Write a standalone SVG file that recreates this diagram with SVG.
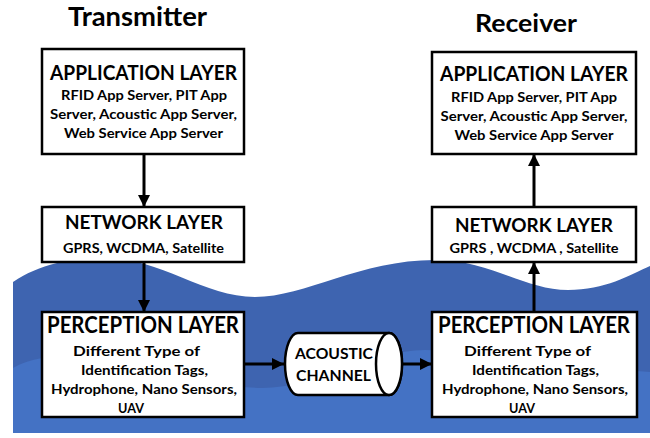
<svg xmlns="http://www.w3.org/2000/svg" width="650" height="438" viewBox="0 0 650 438">
<defs>
<style>
text{font-family:Lato,"Liberation Sans","DejaVu Sans",sans-serif;font-weight:bold;fill:#000;text-anchor:middle}
.title{font-size:26px}
.h1{font-size:20px}
.h2{font-size:18px}
.h3{font-size:22px}
.b{font-size:13.5px}
.box{fill:#fff;stroke:#000;stroke-width:2.5}
.conn{stroke:#000;stroke-width:3;fill:none;marker-end:url(#ah)}
</style>
<marker id="ah" markerUnits="userSpaceOnUse" markerWidth="12" markerHeight="12" refX="11" refY="5.5" orient="auto" viewBox="0 0 11 11">
<path d="M0,0 L11,5.5 L0,11 z" fill="#000"/>
</marker>
</defs>
<g id="background">
<path d="M13,282 C40,264 70,258 105,258 C160,258 205,297 255,297 C305,297 360,260 435,260 C490,260 525,290 568,290 C605,290 630,275 650,266 L650,433 L13,433 Z" fill="#3e64b0"/>
<path d="M13,368 C30,358 60,354 85,355 C150,358 210,388 262,388 C320,388 370,350 425,350 C490,350 580,368 650,372 L650,433 L13,433 Z" fill="#4472c4"/>
</g>
<g id="titles">
<text class="title" x="137.5" y="26" textLength="139" lengthAdjust="spacingAndGlyphs">Transmitter</text>
<text class="title" x="526" y="32" style="font-size:24px" textLength="102" lengthAdjust="spacingAndGlyphs">Receiver</text>
</g>
<g id="connectors">
<line class="conn" x1="144" y1="154" x2="144" y2="207"/>
<line class="conn" x1="144" y1="262" x2="144" y2="312"/>
<line class="conn" x1="244" y1="364" x2="284" y2="364"/>
<line class="conn" x1="402" y1="364" x2="432" y2="364"/>
<line class="conn" x1="534" y1="312" x2="534" y2="262"/>
<line class="conn" x1="534" y1="207" x2="534" y2="154"/>
</g>
<g id="tx-app">
<rect class="box" x="42" y="49" width="202" height="105"/>
<text class="h1" x="143.5" y="80" textLength="187" lengthAdjust="spacingAndGlyphs">APPLICATION LAYER</text>
<text class="b" x="144" y="100" textLength="166" lengthAdjust="spacingAndGlyphs">RFID App Server, PIT App</text>
<text class="b" x="143.5" y="119" textLength="187" lengthAdjust="spacingAndGlyphs">Server, Acoustic App Server,</text>
<text class="b" x="143.5" y="138" textLength="159" lengthAdjust="spacingAndGlyphs">Web Service App Server</text>
</g>
<g id="tx-net">
<rect class="box" x="42" y="207" width="202" height="55"/>
<text class="h2" x="144" y="229" textLength="158" lengthAdjust="spacingAndGlyphs">NETWORK LAYER</text>
<text class="b" x="143.5" y="253" textLength="161" lengthAdjust="spacingAndGlyphs">GPRS, WCDMA, Satellite</text>
</g>
<g id="tx-per">
<rect class="box" x="42" y="312" width="202" height="105"/>
<text class="h3" x="143" y="333" textLength="192" lengthAdjust="spacingAndGlyphs">PERCEPTION LAYER</text>
<text class="b" x="136.5" y="356" textLength="127" lengthAdjust="spacingAndGlyphs">Different Type of</text>
<text class="b" x="144.5" y="375" textLength="127" lengthAdjust="spacingAndGlyphs">Identification Tags,</text>
<text class="b" x="144" y="394" textLength="186" lengthAdjust="spacingAndGlyphs">Hydrophone, Nano Sensors,</text>
<text class="b" x="131" y="413" textLength="26" lengthAdjust="spacingAndGlyphs">UAV</text>
</g>
<g id="channel">
<path class="box" d="M298,333 L389,333 A13,31 0 0,1 389,395 L298,395 A13,31 0 0,1 298,333 Z"/>
<ellipse class="box" cx="389" cy="364" rx="13" ry="31"/>
<text class="b" style="font-size:15.5px" x="334" y="359" textLength="78" lengthAdjust="spacingAndGlyphs">ACOUSTIC</text>
<text class="b" style="font-size:15.5px" x="333.5" y="381" textLength="75" lengthAdjust="spacingAndGlyphs">CHANNEL</text>
</g>
<g id="rx-app">
<rect class="box" x="432" y="52" width="204" height="102"/>
<text class="h1" x="534" y="81" textLength="188" lengthAdjust="spacingAndGlyphs">APPLICATION LAYER</text>
<text class="b" x="534" y="102" textLength="166" lengthAdjust="spacingAndGlyphs">RFID App Server, PIT App</text>
<text class="b" x="534" y="120.5" textLength="187" lengthAdjust="spacingAndGlyphs">Server, Acoustic App Server,</text>
<text class="b" x="534" y="139.5" textLength="159" lengthAdjust="spacingAndGlyphs">Web Service App Server</text>
</g>
<g id="rx-net">
<rect class="box" x="432" y="207" width="204" height="55"/>
<text class="h2" x="534" y="231.5" textLength="158" lengthAdjust="spacingAndGlyphs">NETWORK LAYER</text>
<text class="b" x="534" y="252.5" textLength="169" lengthAdjust="spacingAndGlyphs">GPRS , WCDMA , Satellite</text>
</g>
<g id="rx-per">
<rect class="box" x="432" y="312" width="205" height="105"/>
<text class="h3" x="534" y="333" textLength="192" lengthAdjust="spacingAndGlyphs">PERCEPTION LAYER</text>
<text class="b" x="527.5" y="356" textLength="127" lengthAdjust="spacingAndGlyphs">Different Type of</text>
<text class="b" x="535.5" y="375" textLength="127" lengthAdjust="spacingAndGlyphs">Identification Tags,</text>
<text class="b" x="535" y="394" textLength="186" lengthAdjust="spacingAndGlyphs">Hydrophone, Nano Sensors,</text>
<text class="b" x="522" y="413" textLength="26" lengthAdjust="spacingAndGlyphs">UAV</text>
</g>
</svg>
